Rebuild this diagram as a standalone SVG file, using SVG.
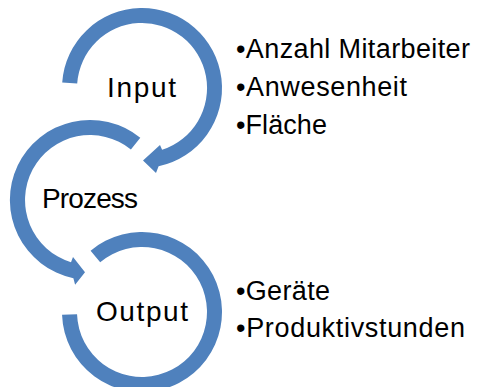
<svg xmlns="http://www.w3.org/2000/svg" width="478" height="387" viewBox="0 0 478 387">
<style>
.ring{fill:#4F81BD;stroke:none}
.lbl{font-family:"Liberation Sans",Arial,sans-serif;font-size:28px;fill:#000}
.item{font-family:"Liberation Sans",Arial,sans-serif;font-size:27px;fill:#000}
</style>
<rect width="478" height="387" fill="#fff"/>
<g id="node-input">
<path class="ring" d="M62.2,82.4 A80,80 0 1 1 158.6,166.3 L156,173 L143,160.5 L160,145 L162.1,149.8 A65,65 0 1 0 77.2,83.5 Z"/>
<text class="lbl" x="107" y="97" textLength="69">Input</text>
</g>
<g id="node-prozess">
<path class="ring" d="M140.3,137.8 A80,80 0 1 0 73.4,278.2 L75.1,284.7 L85,272.3 L73,257 L71,262.2 A65,65 0 1 1 130.9,149.5 Z"/>
<text class="lbl" x="42" y="208" textLength="96">Prozess</text>
</g>
<g id="node-output">
<path class="ring" d="M90.6,250.7 A80,80 0 1 1 62.05,314.8 L77.04,314.3 A65,65 0 1 0 100.2,262.2 Z"/>
<text class="lbl" x="96" y="321" textLength="92">Output</text>
</g>
<g id="list-input">
<text class="item" x="236" y="58" textLength="234">•Anzahl Mitarbeiter</text>
<text class="item" x="236" y="96" textLength="171">•Anwesenheit</text>
<text class="item" x="236" y="134" textLength="91">•Fläche</text>
</g>
<g id="list-output">
<text class="item" x="236" y="300" textLength="94">•Geräte</text>
<text class="item" x="236" y="337" textLength="229">•Produktivstunden</text>
</g>
<g id="connectors"></g>
</svg>
